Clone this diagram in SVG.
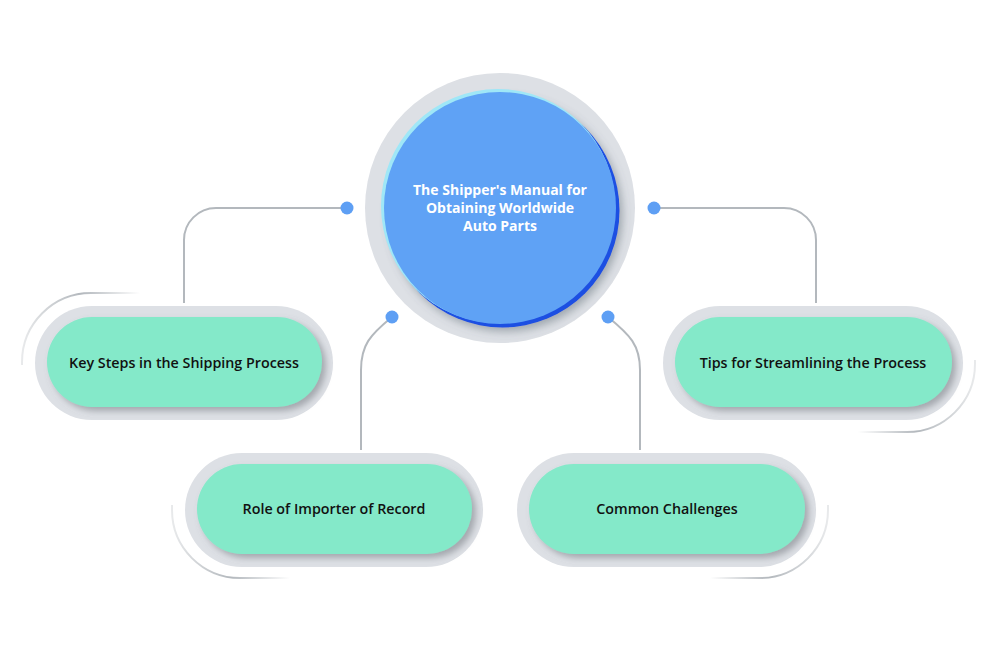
<svg xmlns="http://www.w3.org/2000/svg" width="998" height="652" viewBox="0 0 998 652">
<defs>
<style>
.ring{fill:#dde0e5}
.pill{fill:#84e9c9}
.lbl{font-family:"Open Sans","Liberation Sans",sans-serif;font-weight:600;font-size:14.3px;fill:#111;text-anchor:middle}
.ctr{font-family:"Open Sans","Liberation Sans",sans-serif;font-weight:700;font-size:14px;fill:#fff;text-anchor:middle}
.con{fill:none;stroke:#b3b8bd;stroke-width:2}
.dot{fill:#5e9ff4}
.deco{fill:none;stroke-width:2}
</style>
<filter id="sh" x="-20%" y="-30%" width="140%" height="160%">
<feDropShadow dx="4" dy="4" stdDeviation="3" flood-color="#6b7078" flood-opacity="0.5"/>
</filter>
<filter id="csh" x="-20%" y="-20%" width="140%" height="140%">
<feDropShadow dx="3" dy="4" stdDeviation="4" flood-color="#55606b" flood-opacity="0.45"/>
</filter>
<linearGradient id="gL" x1="0" y1="0" x2="1" y2="0"><stop offset="0" stop-color="#b3b8bd" stop-opacity="0.3"/><stop offset="0.5" stop-color="#b3b8bd"/><stop offset="1" stop-color="#b3b8bd" stop-opacity="0"/></linearGradient>
<linearGradient id="gR" x1="0" y1="0" x2="1" y2="0"><stop offset="0" stop-color="#b3b8bd" stop-opacity="0"/><stop offset="0.5" stop-color="#b3b8bd"/><stop offset="1" stop-color="#b3b8bd" stop-opacity="0.3"/></linearGradient>
</defs>
<rect width="998" height="652" fill="#fff"/>

<g id="connectors">
<path class="con" d="M347 208 H216 A32 32 0 0 0 184 240 V303"/>
<path class="con" d="M654 208 H784 A32 32 0 0 1 816 240 V303"/>
<path class="con" d="M392 317 C370 335 361 345 361 370 V450"/>
<path class="con" d="M608 317 C630 335 640 345 640 370 V450"/>
<circle class="dot" cx="347" cy="208" r="6.5"/>
<circle class="dot" cx="654" cy="208" r="6.5"/>
<circle class="dot" cx="392" cy="317" r="6.5"/>
<circle class="dot" cx="608" cy="317" r="6.5"/>
</g>

<g id="center">
<circle class="ring" cx="500" cy="208" r="135"/>
<g filter="url(#csh)">
<circle cx="502.5" cy="210.5" r="117" fill="#1a4fe2"/>
</g>
<circle cx="498" cy="206" r="117" fill="#9fe7f7"/>
<circle cx="500" cy="208" r="116" fill="#5fa2f5"/>
<text class="ctr" x="500" y="195">The Shipper's Manual for</text>
<text class="ctr" x="500" y="213">Obtaining Worldwide</text>
<text class="ctr" x="500" y="231">Auto Parts</text>
</g>

<g id="n1">
<path class="deco" stroke="url(#gL)" d="M22 365 V362 A69 69 0 0 1 91 293 H140"/>
<rect class="ring" x="35" y="306" width="298" height="114" rx="57"/>
<rect class="pill" filter="url(#sh)" x="47" y="317" width="275" height="90" rx="45"/>
<text class="lbl" x="184" y="368">Key Steps in the Shipping Process</text>
</g>

<g id="n2">
<path class="deco" stroke="url(#gR)" d="M858 432 H907 A68 68 0 0 0 975 364 V360"/>
<rect class="ring" x="663" y="306" width="300" height="114" rx="57"/>
<rect class="pill" filter="url(#sh)" x="675" y="317" width="277" height="90" rx="45"/>
<text class="lbl" x="813" y="368">Tips for Streamlining the Process</text>
</g>

<g id="n3">
<path class="deco" stroke="url(#gL)" d="M172 505 V510 A68 68 0 0 0 240 578 H290"/>
<rect class="ring" x="185" y="453" width="298" height="114" rx="57"/>
<rect class="pill" filter="url(#sh)" x="197" y="464" width="275" height="90" rx="45"/>
<text class="lbl" x="334" y="514">Role of Importer of Record</text>
</g>

<g id="n4">
<path class="deco" stroke="url(#gR)" d="M710 578 H760 A68 68 0 0 0 828 510 V505"/>
<rect class="ring" x="517" y="453" width="299" height="114" rx="57"/>
<rect class="pill" filter="url(#sh)" x="529" y="464" width="276" height="90" rx="45"/>
<text class="lbl" x="667" y="514">Common Challenges</text>
</g>
</svg>
